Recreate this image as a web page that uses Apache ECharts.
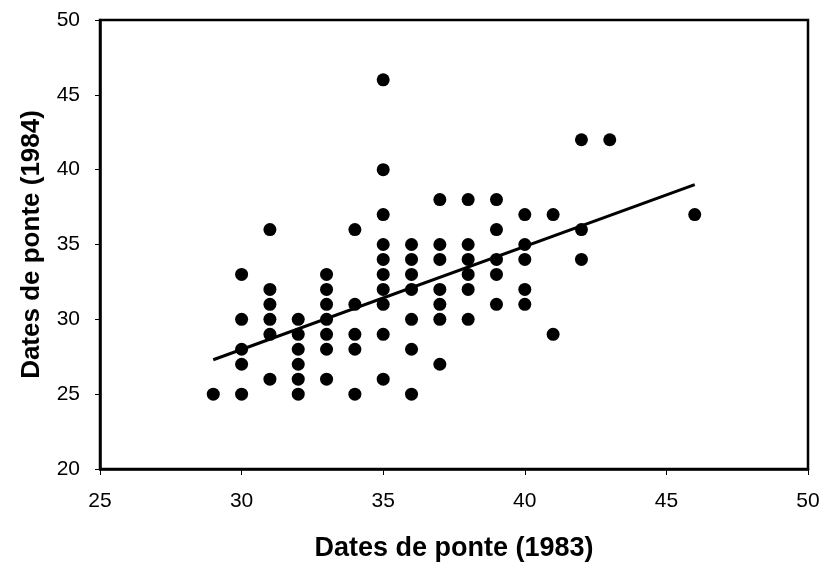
<!DOCTYPE html>
<html>
<head>
<meta charset="utf-8">
<script src="https://cdn.jsdelivr.net/npm/echarts@6/dist/echarts.min.js"></script>
<style>
  html, body { margin: 0; padding: 0; background: #fff; }
  #chart { width: 824px; height: 567px; }
</style>
</head>
<body>
<div id="chart"></div>
<script>
// laying dates, 1983 (x) vs 1984 (y)
const dates1983 = [
  29,
  30, 30, 30, 30, 30,
  31, 31, 31, 31, 31, 31,
  32, 32, 32, 32, 32, 32,
  33, 33, 33, 33, 33, 33, 33,
  34, 34, 34, 34, 34,
  35, 35, 35, 35, 35, 35, 35, 35, 35, 35,
  36, 36, 36, 36, 36, 36, 36,
  37, 37, 37, 37, 37, 37, 37,
  38, 38, 38, 38, 38, 38,
  39, 39, 39, 39, 39,
  40, 40, 40, 40, 40,
  41, 41,
  42, 42, 42,
  43,
  46
]
const dates1984 = [
  25,
  33, 30, 28, 27, 25,
  36, 32, 31, 30, 29, 26,
  30, 29, 28, 27, 26, 25,
  33, 32, 31, 30, 29, 28, 26,
  36, 31, 29, 28, 25,
  46, 40, 37, 35, 34, 33, 32, 31, 29, 26,
  35, 34, 33, 32, 30, 28, 25,
  38, 35, 34, 32, 31, 30, 27,
  38, 35, 34, 33, 32, 30,
  38, 36, 34, 33, 31,
  37, 35, 34, 32, 31,
  37, 29,
  42, 36, 34,
  42,
  37
]
// regression line end points
const trendX = [29, 46]
const trendY = [27.3, 39.0]

const xTicks = [25, 30, 35, 40, 45, 50]
const yTicks = [20, 25, 30, 35, 40, 45, 50]

const points = dates1983.map((x, i) => [x, dates1984[i]])
const trend = trendX.map((x, i) => [x, trendY[i]])

const chart = echarts.init(document.getElementById('chart'))

const font = 'Liberation Sans, Arial, sans-serif'

chart.setOption({
  animation: false,
  grid: {
    left: 100,
    right: 16,
    top: 20,
    bottom: 97,
    show: true,
    borderColor: '#000',
    borderWidth: 2.5
  },
  xAxis: {
    type: 'value',
    min: xTicks[0],
    max: xTicks[xTicks.length - 1],
    interval: 5,
    name: 'Dates de ponte (1983)',
    nameLocation: 'middle',
    nameGap: 66,
    nameTextStyle: { fontFamily: font, fontSize: 27, fontWeight: 'bold', color: '#000' },
    axisLine: { lineStyle: { color: '#000', width: 2.5 } },
    axisTick: { show: true, length: 6, lineStyle: { color: '#000', width: 1 } },
    axisLabel: { fontFamily: font, fontSize: 21, color: '#000', margin: 22 },
    splitLine: { show: false }
  },
  yAxis: {
    type: 'value',
    min: yTicks[0],
    max: yTicks[yTicks.length - 1],
    interval: 5,
    name: 'Dates de ponte (1984)',
    nameLocation: 'middle',
    nameGap: 55,
    nameTextStyle: { fontFamily: font, fontSize: 26, fontWeight: 'bold', color: '#000' },
    axisLine: { lineStyle: { color: '#000', width: 2.5 } },
    axisTick: { show: true, length: 5, lineStyle: { color: '#000', width: 1 } },
    axisLabel: { fontFamily: font, fontSize: 21, color: '#000', margin: 20 },
    splitLine: { show: false }
  },
  series: [
    {
      type: 'scatter',
      data: points,
      symbol: 'circle',
      symbolSize: 13,
      itemStyle: { color: '#000', opacity: 1 }
    },
    {
      type: 'line',
      data: trend,
      symbol: 'none',
      lineStyle: { color: '#000', width: 3 },
      z: 3
    }
  ]
})
</script>
</body>
</html>
